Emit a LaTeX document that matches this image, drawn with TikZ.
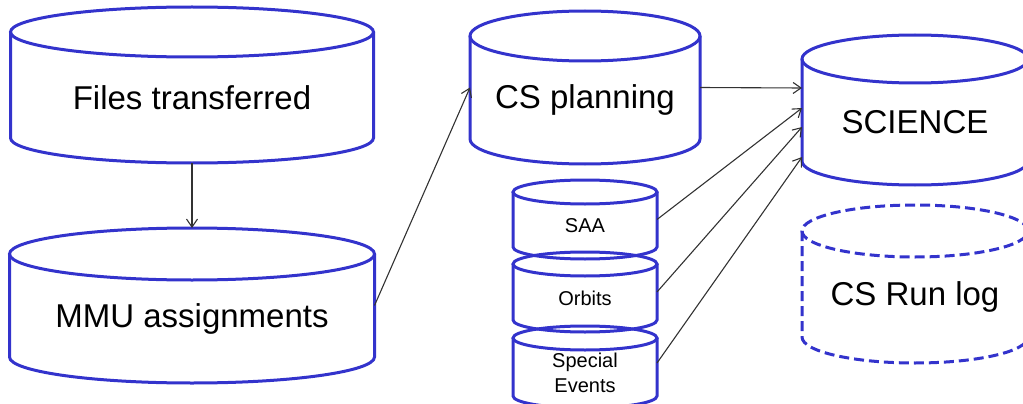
\documentclass[tikz,border=0pt]{standalone}
\usepackage{fontspec}
\setmainfont{Liberation Sans}
\usepackage{xcolor}
\usetikzlibrary{arrows.meta}
\usetikzlibrary{positioning}

\definecolor{cylblue}{RGB}{51,51,204}
\definecolor{linkgray}{RGB}{50,50,50}

\tikzset{
  cylbox/.style={inner sep=0pt, outer sep=0pt},
  cylline/.style={cylblue, line width=3pt},
  bigtext/.style={font=\fontsize{33}{38}\selectfont},
  smalltext/.style={font=\fontsize{20}{25}\selectfont, align=center},
  link/.style={-{Straight Barb[length=8pt,width=11pt]}, linkgray, line width=1.1pt},
}

% cylinder: [style]{name}{center}{width}{height}{ellipse radius}{text style}{text}
\newcommand{\dbcyl}[8][]{%
  \node[cylbox, minimum width=#4pt, minimum height=#5pt] (#2) at (#3) {};
  \draw[cylline, #1] ([yshift=-#6pt]#2.north west)
    -- ([yshift=#6pt]#2.south west)
    arc[start angle=180, end angle=360, x radius=#4pt/2, y radius=#6pt]
    -- ([yshift=-#6pt]#2.north east);
  \draw[cylline, #1] ([yshift=-#6pt]#2.north) ellipse[x radius=#4pt/2, y radius=#6pt];
  \node[#7] (#2-text) at ([yshift=-#6pt/2]#2.center) {#8};
}

\begin{document}
\begin{tikzpicture}[x=1pt, y=-1pt]
    \useasboundingbox (0,0) rectangle (1023,404);
    % left column
    \dbcyl{files}{192,85}{363}{156}{25}{bigtext}{Files transferred}
    \dbcyl{mmu}{192,305.5}{365}{155}{26}{bigtext}{MMU assignments}
    % middle column
    \dbcyl{csplan}{585,87.5}{230}{153}{25}{bigtext}{CS planning}
    \dbcyl{saa}{585,219.5}{144}{79}{12}{smalltext}{SAA}
    \dbcyl{orbits}{585,292}{144}{80}{12}{smalltext}{Orbits}
    \dbcyl{special}{585,367}{144}{82}{12}{smalltext}{Special\\Events}
    % right column
    \dbcyl{science}{915,110}{226}{150}{24}{bigtext}{SCIENCE}
    \dbcyl[dash pattern=on 10pt off 5pt]{runlog}{915,284}{226}{158}{26}{bigtext}{CS Run log}
    % connectors
    \draw[link] (files.south) -- (mmu.north);
    \draw[link] (mmu.east) -- (csplan.west);
    \draw[link] (csplan.east) -- ([yshift=22pt]science.west);
    \draw[link] (saa.east) -- ([yshift=2pt]science.west);
    \draw[link] (orbits.east) -- ([yshift=-17pt]science.west);
    \draw[link] ([yshift=4pt]special.east) -- ([yshift=-47pt]science.west);
\end{tikzpicture}
\end{document}
